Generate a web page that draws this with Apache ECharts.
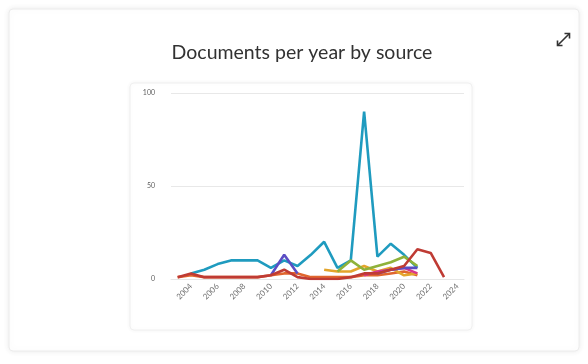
<!DOCTYPE html>
<html>
<head>
<meta charset="utf-8">
<style>
  html, body { margin: 0; padding: 0; background: #ffffff; }
  #chart { width: 588px; height: 364px; }
</style>
<script src="https://cdn.jsdelivr.net/npm/echarts@6/dist/echarts.min.js"></script>
</head>
<body>
<div id="chart"></div>
<script>
// Publication years on the horizontal axis
const years = ['2003','2004','2005','2006','2007','2008','2009','2010','2011','2012','2013',
               '2014','2015','2016','2017','2018','2019','2020','2021','2022','2023','2024'];

// Documents per year for each source (null = no documents that year)
const sourceA = [null, 3, 5, 8, 10, 10, 10, 6, 10, 7, 13, 20, 6, 10, 90, 12, 19, 13, 6, null, null, null];
const sourceB = [1, 3, 1, 1, 1, 1, 1, 2, 5, 1, 0, 0, 0, 1, 3, 3, 5, 7, 16, 14, 1, null];
const sourceC = [1, 2, 1, 1, 1, 1, 1, 2, 3, 3, 1, 1, 1, 1, 2, 2, 3, 4, 2, null, null, null];
const sourceD = [null, null, null, null, null, null, null, null, null, null, null, null, 4, 10, 5, 7, 9, 12, 7, null, null, null];
const sourceE = [null, null, null, null, null, null, null, null, null, null, null, 5, 4, 4, 7, 4, 6, 2, 3, null, null, null];
const sourceF = [null, null, null, null, null, null, null, 2, 13, 3, null, null, null, null, null, 3, 5, 6, 6, null, null, null];
const sourceG = [null, null, null, null, null, null, null, null, null, null, null, null, null, null, 2, 4, 5, 6, 3, null, null, null];

// Y-axis scale
const yMin = 0, yMax = 100, yStep = 50;

const seriesDefs = [
  { name: 'Source A', data: sourceA, color: '#1f9bbf' },
  { name: 'Source C', data: sourceC, color: '#e0662e' },
  { name: 'Source E', data: sourceE, color: '#e3a52c' },
  { name: 'Source D', data: sourceD, color: '#8fb23a' },
  { name: 'Source G', data: sourceG, color: '#d9368a' },
  { name: 'Source F', data: sourceF, color: '#5b4ec4' },
  { name: 'Source B', data: sourceB, color: '#bf3b34' }
];

const chart = echarts.init(document.getElementById('chart'), null, { renderer: 'canvas' });

chart.setOption({
  backgroundColor: '#ffffff',
  animation: false,
  graphic: [
    // outer card
    { type: 'rect', z: -10, shape: { x: 9, y: 9, width: 570, height: 342, r: 4 },
      style: { fill: '#ffffff', stroke: '#ececec', lineWidth: 1,
               shadowBlur: 6, shadowColor: 'rgba(0,0,0,0.08)' } },
    // inner plot panel
    { type: 'rect', z: -9, shape: { x: 130, y: 83, width: 342, height: 247, r: 4 },
      style: { fill: '#ffffff', stroke: '#f0f0f0', lineWidth: 1,
               shadowBlur: 4, shadowColor: 'rgba(0,0,0,0.05)' } },
    // chart title
    { type: 'text', x: 302, y: 53, z: 10,
      style: { text: 'Documents per year by source', fontFamily: 'Lato', fontSize: 19.5,
               fill: '#323232', align: 'center', verticalAlign: 'middle' } },
    // expand icon
    { type: 'group', left: 555, top: 31, children: [
      { type: 'line', shape: { x1: 1, y1: 13, x2: 13, y2: 1 }, style: { stroke: '#333', lineWidth: 1.6 } },
      { type: 'polyline', shape: { points: [[1, 8], [1, 13], [6, 13]] }, style: { stroke: '#333', lineWidth: 1.6, fill: null } },
      { type: 'polyline', shape: { points: [[8, 1], [13, 1], [13, 6]] }, style: { stroke: '#333', lineWidth: 1.6, fill: null } }
    ]}
  ],
  grid: { left: 171, right: 124, top: 93, bottom: 85, containLabel: false },
  xAxis: {
    type: 'category',
    data: years,
    boundaryGap: true,
    axisLine: { show: true, lineStyle: { color: '#e6e6e6' } },
    axisTick: { show: false },
    axisLabel: {
      interval: function (idx) { return idx % 2 === 1; },
      rotate: 45,
      margin: 6,
      fontFamily: 'Lato',
      fontSize: 8,
      color: '#707070'
    }
  },
  yAxis: {
    type: 'value',
    min: yMin, max: yMax, interval: yStep,
    axisLine: { show: false },
    axisTick: { show: false },
    splitLine: { lineStyle: { color: '#e8e8e8', width: 1 } },
    axisLabel: { margin: 16, fontFamily: 'Lato', fontSize: 7, color: '#606060' }
  },
  series: seriesDefs.map(s => ({
    name: s.name,
    type: 'line',
    data: s.data,
    showSymbol: false,
    connectNulls: false,
    lineStyle: { width: 2.6, color: s.color },
    itemStyle: { color: s.color }
  }))
});
</script>
</body>
</html>
